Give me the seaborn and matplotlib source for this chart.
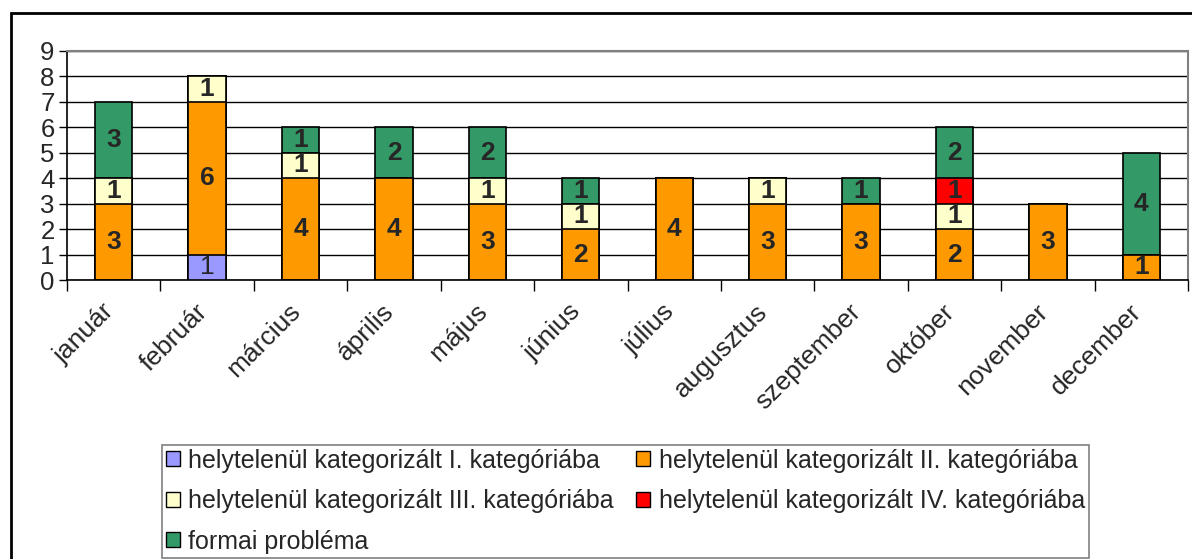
import matplotlib
matplotlib.use('agg')

import matplotlib.pyplot as plt
import matplotlib.patches as mpatches
import matplotlib.transforms as mtransforms
import seaborn as sns
import pandas as pd
import numpy as np

months = ['január', 'február', 'március', 'április', 'május', 'június',
          'július', 'augusztus', 'szeptember', 'október', 'november', 'december']
series_names = ['helytelenül kategorizált I. kategóriába',
                'helytelenül kategorizált II. kategóriába',
                'helytelenül kategorizált III. kategóriába',
                'helytelenül kategorizált IV. kategóriába',
                'formai probléma']
kat_1 = [0, 1, 0, 0, 0, 0, 0, 0, 0, 0, 0, 0]
kat_2 = [3, 6, 4, 4, 3, 2, 4, 3, 3, 2, 3, 1]
kat_3 = [1, 1, 1, 0, 1, 1, 0, 1, 0, 1, 0, 0]
kat_4 = [0, 0, 0, 0, 0, 0, 0, 0, 0, 1, 0, 0]
formai = [3, 0, 1, 2, 2, 1, 0, 0, 1, 2, 0, 4]
colors = ['#9999FF', '#FF9900', '#FFFFCC', '#FF0000', '#339966']

sns.set_style('white')
plt.rcParams['font.family'] = ['Liberation Sans', 'DejaVu Sans']

series = [kat_1, kat_2, kat_3, kat_4, formai]
vals = np.array(series, dtype=float)
cum = np.cumsum(vals, axis=0)

fig = plt.figure(figsize=(11.92, 5.59), dpi=100)
ax = fig.add_axes([67/1192, 1 - 280/559, (1188 - 67)/1192, (280 - 51)/559])

# overlay cumulative bars, tallest first
for i in range(len(series) - 1, -1, -1):
    df = pd.DataFrame({'honap': months, 'ertek': cum[i]})
    sns.barplot(data=df, x='honap', y='ertek', color=colors[i], width=0.4,
                edgecolor='black', linewidth=1.2, saturation=1, ax=ax, zorder=3)

for i in range(len(series)):
    for j in range(len(months)):
        v = vals[i, j]
        if v > 0:
            ax.text(j, cum[i, j] - v / 2, f'{int(v)}', ha='center', va='center',
                    fontsize=19, fontweight='normal' if i == 0 else 'bold', zorder=5)

ax.set_xlim(-0.5, 11.5)
ax.set_ylim(0, 9)
ax.set_yticks(range(10))
ax.set_xlabel('')
ax.set_ylabel('')
ax.yaxis.grid(True, color='black', linewidth=1)
ax.set_axisbelow(True)
ax.tick_params(axis='y', length=6, width=1, color='black', labelsize=18.5, pad=3, left=True)
ax.set_xticks(range(12))
ax.set_xticklabels(months, rotation=45, ha='right', rotation_mode='anchor', fontsize=19)
ax.tick_params(axis='x', which='major', length=0, pad=14)
shift = mtransforms.ScaledTranslation(-12/100, 0, fig.dpi_scale_trans)
for lbl in ax.get_xticklabels():
    lbl.set_transform(lbl.get_transform() + shift)
ax.set_xticks(np.arange(-0.5, 12, 1), minor=True)
ax.tick_params(axis='x', which='minor', length=8, width=1, color='black', bottom=True)
for s in ['left', 'bottom']:
    ax.spines[s].set_color('black')
    ax.spines[s].set_linewidth(1.2)
for s in ['top', 'right']:
    ax.spines[s].set_color('#808080')
    ax.spines[s].set_linewidth(1.5)

handles = [mpatches.Patch(facecolor=c, edgecolor='black', label=n)
           for c, n in zip(colors, series_names)]
order = [0, 2, 4, 1, 3]
leg = fig.legend([handles[k] for k in order], [series_names[k] for k in order],
                 ncol=2, loc='upper left', bbox_to_anchor=(162/1192, 1 - 445/559),
                 frameon=True, fancybox=False, fontsize=18, handlelength=0.55,
                 handleheight=0.55, handletextpad=0.35, columnspacing=0.9,
                 labelspacing=0.66, borderpad=0.15, borderaxespad=0)
leg.get_frame().set_edgecolor('#606060')
leg.get_frame().set_linewidth(1.2)

fig.patches.append(mpatches.Rectangle((11/1192, -0.1), 1.2, 1 - 13/559 + 0.1,
                                      transform=fig.transFigure, fill=False,
                                      edgecolor='black', linewidth=2))

fig.savefig('out.png', dpi=100)
